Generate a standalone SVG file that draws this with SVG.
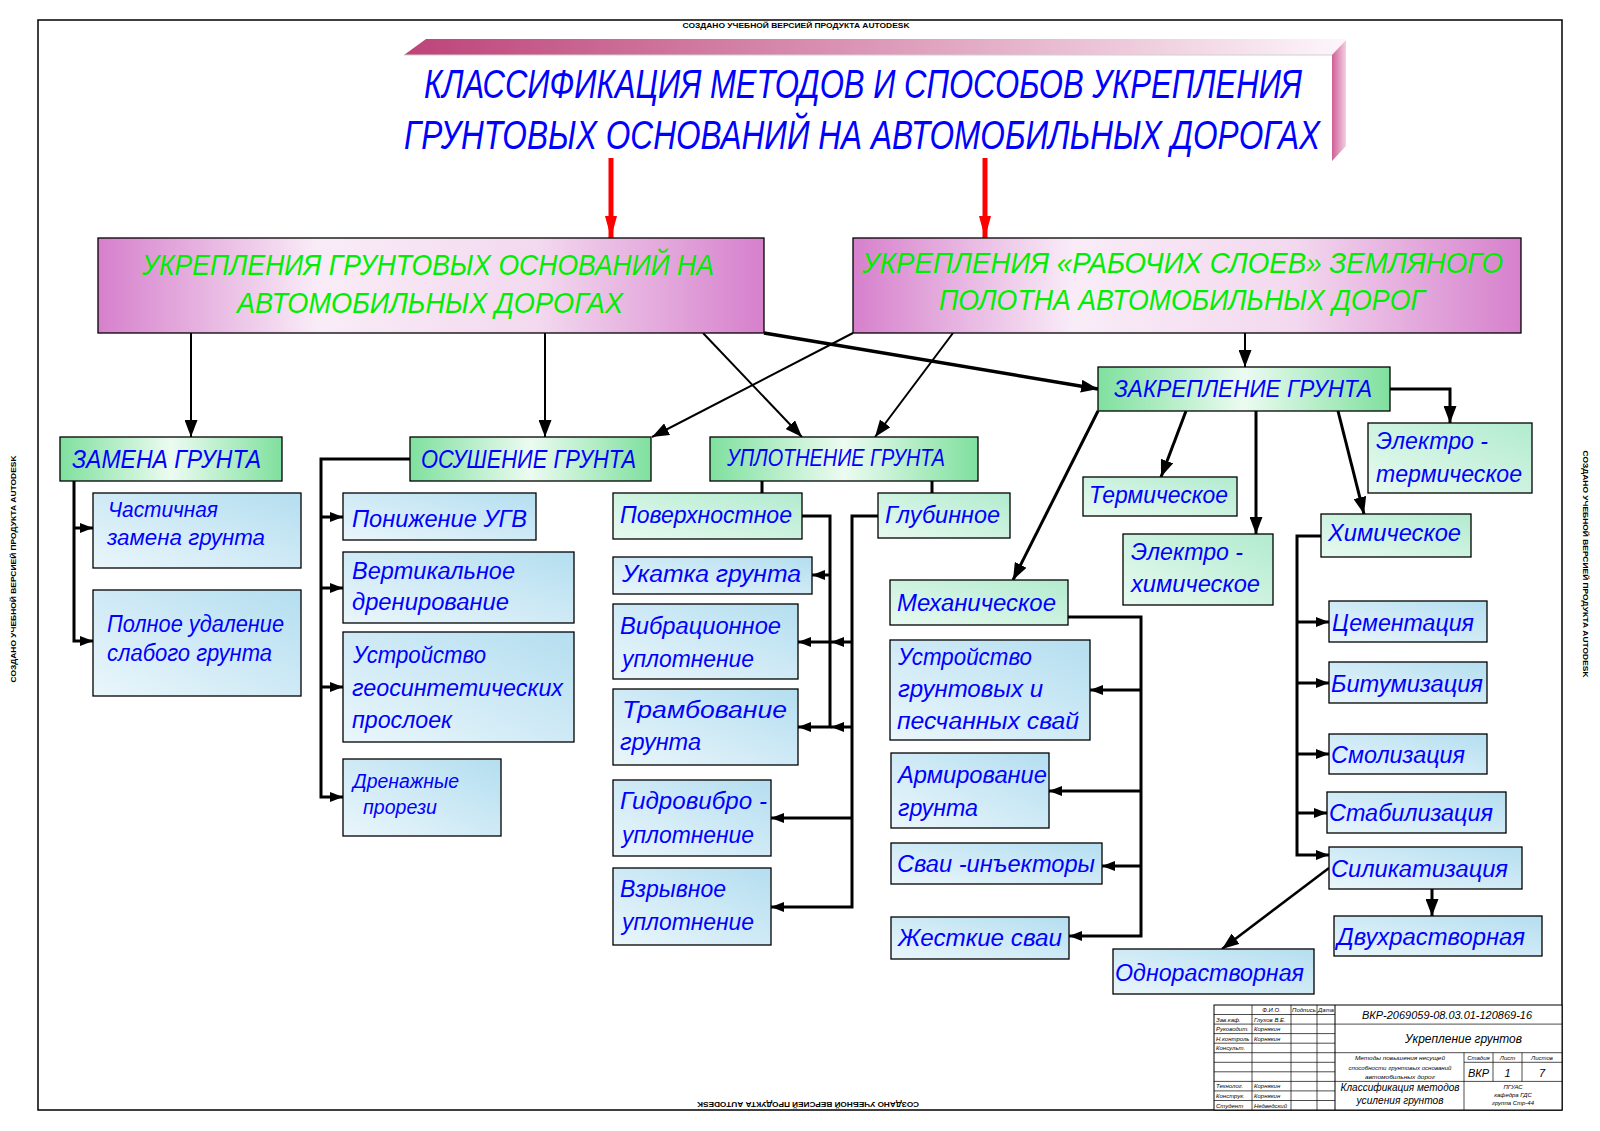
<svg xmlns="http://www.w3.org/2000/svg" width="1600" height="1131" viewBox="0 0 1600 1131">
<defs>
<style>
.n rect{stroke:#000;stroke-width:1.3}
.pk{fill:url(#gPink)}
.hd{fill:url(#gHead)}
.mt{fill:url(#gMint)}
.bl{fill:url(#gBlue)}
text{font-family:"Liberation Sans","DejaVu Sans",sans-serif}
.t{font-style:italic;fill:#0000ff;font-size:23px}
.h{font-size:25px}
.tt{font-style:italic;fill:#0000ff;font-size:40px}
.g{font-style:italic;fill:#00ee00;font-size:30px}
.s{font-style:italic;fill:#000;font-size:6px}
.wm{font-weight:bold;fill:#000;font-size:7.5px}
.c line,.c polyline{stroke:#000;fill:none;stroke-width:3}
.c .thin{stroke-width:2}
.st{stroke:#000;fill:none;stroke-width:0.7}
</style>
<linearGradient id="gPink" x1="0" y1="0" x2="1" y2="0">
<stop offset="0" stop-color="#d680cc"/><stop offset="0.33" stop-color="#f9ecf7"/><stop offset="0.66" stop-color="#f3d9ef"/><stop offset="1" stop-color="#d680cc"/>
</linearGradient>
<linearGradient id="gHead" x1="0" y1="0" x2="1" y2="0">
<stop offset="0" stop-color="#7fe09e"/><stop offset="0.5" stop-color="#ecfbf1"/><stop offset="1" stop-color="#7fe09e"/>
</linearGradient>
<linearGradient id="gMint" x1="1" y1="0" x2="0" y2="1">
<stop offset="0" stop-color="#b2ebcf"/><stop offset="1" stop-color="#e8faf0"/>
</linearGradient>
<linearGradient id="gBlue" x1="1" y1="0" x2="0" y2="1">
<stop offset="0" stop-color="#b4def0"/><stop offset="1" stop-color="#eaf6fb"/>
</linearGradient>
<linearGradient id="gBar" x1="0" y1="0" x2="1" y2="0">
<stop offset="0" stop-color="#bd4479"/><stop offset="0.5" stop-color="#dc98b8"/><stop offset="1" stop-color="#fdf6fa"/>
</linearGradient>
<linearGradient id="gSide" x1="0" y1="0" x2="1" y2="0">
<stop offset="0" stop-color="#cf5f98"/><stop offset="1" stop-color="#f4cfe2"/>
</linearGradient>
<marker id="ah" viewBox="0 0 17 13" refX="17" refY="6.5" markerWidth="17" markerHeight="13" orient="auto" markerUnits="userSpaceOnUse"><path d="M0,0 L17,6.5 L0,13 z" fill="#000"/></marker>
<marker id="as" viewBox="0 0 13 10" refX="13" refY="5" markerWidth="13" markerHeight="10" orient="auto" markerUnits="userSpaceOnUse"><path d="M0,0 L13,5 L0,10 z" fill="#000"/></marker>
<marker id="ar" viewBox="0 0 22 12" refX="22" refY="6" markerWidth="22" markerHeight="12" orient="auto" markerUnits="userSpaceOnUse"><path d="M0,0 L22,6 L0,12 z" fill="#ff0000"/></marker>
</defs>
<rect width="1600" height="1131" fill="#fff"/>
<rect x="38" y="20" width="1524" height="1090" fill="none" stroke="#000" stroke-width="1.5"/>
<text class="wm" x="796" y="27.5" text-anchor="middle" textLength="227" lengthAdjust="spacingAndGlyphs">СОЗДАНО УЧЕБНОЙ ВЕРСИЕЙ ПРОДУКТА AUTODESK</text>
<text class="wm" transform="translate(15.5,569) rotate(-90)" text-anchor="middle" textLength="227" lengthAdjust="spacingAndGlyphs">СОЗДАНО УЧЕБНОЙ ВЕРСИЕЙ ПРОДУКТА AUTODESK</text>
<text class="wm" transform="translate(1583,564) rotate(90)" text-anchor="middle" textLength="227" lengthAdjust="spacingAndGlyphs">СОЗДАНО УЧЕБНОЙ ВЕРСИЕЙ ПРОДУКТА AUTODESK</text>
<text class="wm" transform="translate(808,1102) rotate(180)" text-anchor="middle" textLength="222" lengthAdjust="spacingAndGlyphs">СОЗДАНО УЧЕБНОЙ ВЕРСИЕЙ ПРОДУКТА AUTODESK</text>

<g id="title">
<polygon points="404,55 426,39 1346,39 1332,55" fill="url(#gBar)"/>
<line x1="404" y1="55" x2="1332" y2="55" stroke="#d0d0d0" stroke-width="1"/>
<polygon points="1332,55 1346,40 1346,146 1332,161" fill="url(#gSide)"/>
<text class="tt" x="424" y="98" textLength="878" lengthAdjust="spacingAndGlyphs">КЛАССИФИКАЦИЯ МЕТОДОВ И СПОСОБОВ УКРЕПЛЕНИЯ</text>
<text class="tt" x="404" y="149" textLength="916" lengthAdjust="spacingAndGlyphs">ГРУНТОВЫХ ОСНОВАНИЙ НА АВТОМОБИЛЬНЫХ ДОРОГАХ</text>
</g>

<g id="connectors" class="c">
<line x1="611" y1="158" x2="611" y2="238" style="stroke:#ff0000;stroke-width:5" marker-end="url(#ar)"/>
<line x1="985" y1="158" x2="985" y2="238" style="stroke:#ff0000;stroke-width:5" marker-end="url(#ar)"/>
<line class="thin" x1="191" y1="333" x2="191" y2="437" marker-end="url(#ah)"/>
<line class="thin" x1="545" y1="333" x2="545" y2="437" marker-end="url(#ah)"/>
<line class="thin" x1="703" y1="333" x2="802" y2="437" marker-end="url(#ah)"/>
<line class="thin" x1="853" y1="333" x2="652" y2="437" marker-end="url(#ah)"/>
<line class="thin" x1="953" y1="333" x2="875" y2="437" marker-end="url(#ah)"/>
<line class="thin" x1="1245" y1="333" x2="1245" y2="367" marker-end="url(#ah)"/>
<line x1="764" y1="333" x2="1098" y2="389" style="stroke-width:3.5" marker-end="url(#ah)"/>
<polyline points="74,481 74,641 93,641" marker-end="url(#as)"/>
<line x1="74" y1="528" x2="93" y2="528" marker-end="url(#as)"/>
<polyline points="410,459 321,459 321,797 343,797" marker-end="url(#as)"/>
<line x1="321" y1="517" x2="343" y2="517" marker-end="url(#as)"/>
<line x1="321" y1="588" x2="343" y2="588" marker-end="url(#as)"/>
<line x1="321" y1="687" x2="343" y2="687" marker-end="url(#as)"/>
<line x1="762" y1="481" x2="762" y2="493"/>
<line x1="932" y1="481" x2="932" y2="493"/>
<polyline points="802,516 830,516 830,727 798,727" marker-end="url(#as)"/>
<line x1="830" y1="575" x2="812" y2="575" marker-end="url(#as)"/>
<line x1="830" y1="642" x2="798" y2="642" marker-end="url(#as)"/>
<polyline points="878,516 852,516 852,907 771,907" marker-end="url(#as)"/>
<line x1="852" y1="642" x2="831" y2="642" marker-end="url(#as)"/>
<line x1="852" y1="727" x2="831" y2="727" marker-end="url(#as)"/>
<line x1="852" y1="818" x2="771" y2="818" marker-end="url(#as)"/>
<line x1="1098" y1="411" x2="1013" y2="580" marker-end="url(#ah)"/>
<line x1="1186" y1="411" x2="1161" y2="477" marker-end="url(#ah)"/>
<line x1="1256" y1="411" x2="1256" y2="534" marker-end="url(#ah)"/>
<line x1="1338" y1="411" x2="1364" y2="514" marker-end="url(#ah)"/>
<polyline points="1390,389 1450,389 1450,423" marker-end="url(#ah)"/>
<polyline points="1068,617 1141,617 1141,936 1069,936" marker-end="url(#as)"/>
<line x1="1141" y1="690" x2="1090" y2="690" marker-end="url(#as)"/>
<line x1="1141" y1="791" x2="1049" y2="791" marker-end="url(#as)"/>
<line x1="1141" y1="866" x2="1102" y2="866" marker-end="url(#as)"/>
<polyline points="1321,536 1297,536 1297,855 1329,855" marker-end="url(#as)"/>
<line x1="1297" y1="622" x2="1329" y2="622" marker-end="url(#as)"/>
<line x1="1297" y1="683" x2="1329" y2="683" marker-end="url(#as)"/>
<line x1="1297" y1="754" x2="1329" y2="754" marker-end="url(#as)"/>
<line x1="1297" y1="813" x2="1327" y2="813" marker-end="url(#as)"/>
<line x1="1329" y1="868" x2="1222" y2="949" style="stroke-width:2.5" marker-end="url(#ah)"/>
<line x1="1432" y1="889" x2="1432" y2="916" marker-end="url(#ah)"/>
</g>

<g id="n_root_left" class="n"><rect class="pk" x="98" y="238" width="666" height="95"/>
<text class="g" x="142" y="275" textLength="572" lengthAdjust="spacingAndGlyphs">УКРЕПЛЕНИЯ ГРУНТОВЫХ ОСНОВАНИЙ НА</text>
<text class="g" x="237" y="313" textLength="386" lengthAdjust="spacingAndGlyphs">АВТОМОБИЛЬНЫХ ДОРОГАХ</text></g>
<g id="n_root_right" class="n"><rect class="pk" x="853" y="238" width="668" height="95"/>
<text class="g" x="862" y="273" textLength="641" lengthAdjust="spacingAndGlyphs">УКРЕПЛЕНИЯ «РАБОЧИХ СЛОЕВ» ЗЕМЛЯНОГО</text>
<text class="g" x="939" y="310" textLength="486" lengthAdjust="spacingAndGlyphs">ПОЛОТНА АВТОМОБИЛЬНЫХ ДОРОГ</text></g>

<g id="n_zamena" class="n"><rect class="hd" x="60" y="437" width="222" height="44"/>
<text class="t h" x="72" y="468" textLength="189" lengthAdjust="spacingAndGlyphs">ЗАМЕНА ГРУНТА</text></g>
<g id="n_osush" class="n"><rect class="hd" x="410" y="437" width="241" height="44"/>
<text class="t h" x="421" y="468" textLength="215" lengthAdjust="spacingAndGlyphs">ОСУШЕНИЕ ГРУНТА</text></g>
<g id="n_uplot" class="n"><rect class="hd" x="710" y="437" width="268" height="44"/>
<text class="t" style="font-size:24px" x="727" y="466" textLength="218" lengthAdjust="spacingAndGlyphs">УПЛОТНЕНИЕ ГРУНТА</text></g>
<g id="n_zakrep" class="n"><rect class="hd" x="1098" y="367" width="292" height="44"/>
<text class="t" style="font-size:24px" x="1114" y="397" textLength="258" lengthAdjust="spacingAndGlyphs">ЗАКРЕПЛЕНИЕ ГРУНТА</text></g>

<g id="n_chast" class="n"><rect class="bl" x="93" y="493" width="208" height="75"/>
<text class="t" style="font-size:22px" x="108" y="517" textLength="110" lengthAdjust="spacingAndGlyphs">Частичная</text>
<text class="t" style="font-size:22px" x="107" y="545" textLength="158" lengthAdjust="spacingAndGlyphs">замена грунта</text></g>
<g id="n_poln" class="n"><rect class="bl" x="93" y="590" width="208" height="106"/>
<text class="t" x="107" y="632" textLength="177" lengthAdjust="spacingAndGlyphs">Полное удаление</text>
<text class="t" x="107" y="661" textLength="165" lengthAdjust="spacingAndGlyphs">слабого грунта</text></g>

<g id="n_ponizh" class="n"><rect class="bl" x="343" y="493" width="193" height="47"/>
<text class="t" x="352" y="527" textLength="175" lengthAdjust="spacingAndGlyphs">Понижение УГВ</text></g>
<g id="n_vert" class="n"><rect class="bl" x="343" y="552" width="231" height="71"/>
<text class="t" x="352" y="579" textLength="163" lengthAdjust="spacingAndGlyphs">Вертикальное</text>
<text class="t" x="352" y="610" textLength="157" lengthAdjust="spacingAndGlyphs">дренирование</text></g>
<g id="n_geos" class="n"><rect class="bl" x="343" y="632" width="231" height="110"/>
<text class="t" x="353" y="663" textLength="133" lengthAdjust="spacingAndGlyphs">Устройство</text>
<text class="t" x="352" y="696" textLength="211" lengthAdjust="spacingAndGlyphs">геосинтетических</text>
<text class="t" x="352" y="728" textLength="100" lengthAdjust="spacingAndGlyphs">прослоек</text></g>
<g id="n_dren" class="n"><rect class="bl" x="343" y="759" width="158" height="77"/>
<text class="t" style="font-size:20px" x="353" y="788" textLength="106" lengthAdjust="spacingAndGlyphs">Дренажные</text>
<text class="t" style="font-size:20px" x="363" y="814" textLength="74" lengthAdjust="spacingAndGlyphs">прорези</text></g>

<g id="n_poverh" class="n"><rect class="mt" x="613" y="493" width="189" height="46"/>
<text class="t" x="620" y="523" textLength="172" lengthAdjust="spacingAndGlyphs">Поверхностное</text></g>
<g id="n_glub" class="n"><rect class="mt" x="878" y="493" width="132" height="45"/>
<text class="t" x="885" y="523" textLength="115" lengthAdjust="spacingAndGlyphs">Глубинное</text></g>
<g id="n_ukat" class="n"><rect class="bl" x="613" y="557" width="199" height="37"/>
<text class="t" x="622" y="582" textLength="179" lengthAdjust="spacingAndGlyphs">Укатка грунта</text></g>
<g id="n_vibr" class="n"><rect class="bl" x="613" y="604" width="185" height="75"/>
<text class="t" x="620" y="634" textLength="161" lengthAdjust="spacingAndGlyphs">Вибрационное</text>
<text class="t" x="622" y="667" textLength="132" lengthAdjust="spacingAndGlyphs">уплотнение</text></g>
<g id="n_tramb" class="n"><rect class="bl" x="613" y="689" width="185" height="76"/>
<text class="t" x="622" y="718" textLength="165" lengthAdjust="spacingAndGlyphs">Трамбование</text>
<text class="t" x="620" y="750" textLength="81" lengthAdjust="spacingAndGlyphs">грунта</text></g>
<g id="n_gidro" class="n"><rect class="bl" x="613" y="780" width="158" height="76"/>
<text class="t" x="620" y="809" textLength="147" lengthAdjust="spacingAndGlyphs">Гидровибро -</text>
<text class="t" x="622" y="843" textLength="132" lengthAdjust="spacingAndGlyphs">уплотнение</text></g>
<g id="n_vzryv" class="n"><rect class="bl" x="613" y="868" width="158" height="77"/>
<text class="t" x="620" y="897" textLength="106" lengthAdjust="spacingAndGlyphs">Взрывное</text>
<text class="t" x="622" y="930" textLength="132" lengthAdjust="spacingAndGlyphs">уплотнение</text></g>

<g id="n_mech" class="n"><rect class="mt" x="890" y="580" width="178" height="45"/>
<text class="t" x="897" y="611" textLength="159" lengthAdjust="spacingAndGlyphs">Механическое</text></g>
<g id="n_svai" class="n"><rect class="bl" x="890" y="640" width="200" height="100"/>
<text class="t" x="898" y="665" textLength="134" lengthAdjust="spacingAndGlyphs">Устройство</text>
<text class="t" x="898" y="697" textLength="145" lengthAdjust="spacingAndGlyphs">грунтовых и</text>
<text class="t" x="897" y="729" textLength="182" lengthAdjust="spacingAndGlyphs">песчанных свай</text></g>
<g id="n_armir" class="n"><rect class="bl" x="891" y="753" width="158" height="75"/>
<text class="t" x="898" y="783" textLength="149" lengthAdjust="spacingAndGlyphs">Армирование</text>
<text class="t" x="898" y="816" textLength="80" lengthAdjust="spacingAndGlyphs">грунта</text></g>
<g id="n_inj" class="n"><rect class="bl" x="891" y="843" width="211" height="41"/>
<text class="t" x="897" y="872" textLength="198" lengthAdjust="spacingAndGlyphs">Сваи -инъекторы</text></g>
<g id="n_zhest" class="n"><rect class="bl" x="891" y="917" width="178" height="42"/>
<text class="t" x="898" y="946" textLength="164" lengthAdjust="spacingAndGlyphs">Жесткие сваи</text></g>

<g id="n_term" class="n"><rect class="mt" x="1083" y="477" width="154" height="39"/>
<text class="t" x="1089" y="503" textLength="139" lengthAdjust="spacingAndGlyphs">Термическое</text></g>
<g id="n_elchem" class="n"><rect class="mt" x="1123" y="534" width="150" height="71"/>
<text class="t" x="1131" y="560" textLength="112" lengthAdjust="spacingAndGlyphs">Электро -</text>
<text class="t" x="1131" y="592" textLength="129" lengthAdjust="spacingAndGlyphs">химическое</text></g>
<g id="n_elterm" class="n"><rect class="mt" x="1368" y="423" width="164" height="70"/>
<text class="t" x="1376" y="449" textLength="112" lengthAdjust="spacingAndGlyphs">Электро -</text>
<text class="t" x="1376" y="482" textLength="146" lengthAdjust="spacingAndGlyphs">термическое</text></g>
<g id="n_chem" class="n"><rect class="mt" x="1321" y="514" width="150" height="43"/>
<text class="t" x="1328" y="541" textLength="133" lengthAdjust="spacingAndGlyphs">Химическое</text></g>

<g id="n_cement" class="n"><rect class="bl" x="1329" y="601" width="158" height="41"/>
<text class="t" x="1332" y="631" textLength="142" lengthAdjust="spacingAndGlyphs">Цементация</text></g>
<g id="n_bitum" class="n"><rect class="bl" x="1329" y="662" width="158" height="41"/>
<text class="t" x="1331" y="692" textLength="152" lengthAdjust="spacingAndGlyphs">Битумизация</text></g>
<g id="n_smol" class="n"><rect class="bl" x="1329" y="734" width="158" height="40"/>
<text class="t" x="1331" y="763" textLength="134" lengthAdjust="spacingAndGlyphs">Смолизация</text></g>
<g id="n_stab" class="n"><rect class="bl" x="1327" y="792" width="179" height="41"/>
<text class="t" x="1329" y="821" textLength="164" lengthAdjust="spacingAndGlyphs">Стабилизация</text></g>
<g id="n_silik" class="n"><rect class="bl" x="1329" y="847" width="193" height="42"/>
<text class="t" x="1331" y="877" textLength="177" lengthAdjust="spacingAndGlyphs">Силикатизация</text></g>
<g id="n_dvuh" class="n"><rect class="bl" x="1334" y="916" width="208" height="40"/>
<text class="t" x="1337" y="945" textLength="188" lengthAdjust="spacingAndGlyphs">Двухрастворная</text></g>
<g id="n_odno" class="n"><rect class="bl" x="1113" y="949" width="201" height="45"/>
<text class="t" x="1115" y="981" textLength="189" lengthAdjust="spacingAndGlyphs">Однорастворная</text></g>

<g id="stamp">
<rect x="1214" y="1005" width="348" height="105" fill="#fff" stroke="#000" stroke-width="1"/>
<path class="st" d="M1214,1014.5H1335M1214,1024.1H1562M1214,1033.6H1335M1214,1043.2H1335M1214,1052.7H1562M1214,1062.3H1335M1464,1062.3H1562M1214,1071.8H1335M1214,1081.4H1562M1214,1090.9H1335M1214,1100.5H1335"/>
<path class="st" d="M1252,1005V1110M1291,1005V1110M1317,1005V1110M1464,1052.7V1110M1493,1052.7V1081.4M1522,1052.7V1081.4"/>
<path d="M1335,1005V1110" stroke="#000" stroke-width="1" fill="none"/>
<text class="s" x="1271.5" y="1012" text-anchor="middle">Ф.И.О.</text>
<text class="s" x="1304" y="1012" text-anchor="middle">Подпись</text>
<text class="s" x="1326" y="1012" text-anchor="middle">Дата</text>
<text class="s" x="1216" y="1021.5">Зав.каф.</text><text class="s" x="1254" y="1021.5">Глухов В.Е.</text>
<text class="s" x="1216" y="1031">Руководит.</text><text class="s" x="1254" y="1031">Корнякин</text>
<text class="s" x="1216" y="1040.6">Н.контроль</text><text class="s" x="1254" y="1040.6">Корнякин</text>
<text class="s" x="1216" y="1050.2">Консульт.</text>
<text class="s" x="1216" y="1088.4">Технолог.</text><text class="s" x="1254" y="1088.4">Корнякин</text>
<text class="s" x="1216" y="1097.9">Конструк.</text><text class="s" x="1254" y="1097.9">Корнякин</text>
<text class="s" x="1216" y="1107.5">Студент</text><text class="s" x="1254" y="1107.5">Недведский</text>
<text class="s" style="font-size:11.5px" x="1362" y="1018.5" textLength="170" lengthAdjust="spacingAndGlyphs">ВКР-2069059-08.03.01-120869-16</text>
<text class="s" style="font-size:13px" x="1405" y="1043" textLength="117" lengthAdjust="spacingAndGlyphs">Укрепление грунтов</text>
<text class="s" x="1400" y="1060" text-anchor="middle" textLength="90" lengthAdjust="spacingAndGlyphs">Методы повышения несущей</text>
<text class="s" x="1400" y="1069.5" text-anchor="middle" textLength="103" lengthAdjust="spacingAndGlyphs">способности грунтовых оснований</text>
<text class="s" x="1400" y="1079" text-anchor="middle" textLength="70" lengthAdjust="spacingAndGlyphs">автомобильных дорог</text>
<text class="s" x="1478.5" y="1060" text-anchor="middle">Стадия</text>
<text class="s" x="1507.5" y="1060" text-anchor="middle">Лист</text>
<text class="s" x="1542" y="1060" text-anchor="middle">Листов</text>
<text class="s" style="font-size:11px" x="1478.5" y="1077" text-anchor="middle">ВКР</text>
<text class="s" style="font-size:11px" x="1507.5" y="1077" text-anchor="middle">1</text>
<text class="s" style="font-size:11px" x="1542" y="1077" text-anchor="middle">7</text>
<text class="s" style="font-size:11.5px" x="1400" y="1091" text-anchor="middle" textLength="119" lengthAdjust="spacingAndGlyphs">Классификация методов</text>
<text class="s" style="font-size:11.5px" x="1400" y="1104" text-anchor="middle" textLength="87" lengthAdjust="spacingAndGlyphs">усиления грунтов</text>
<text class="s" x="1513" y="1089" text-anchor="middle">ПГУАС</text>
<text class="s" x="1513" y="1097" text-anchor="middle">кафедра ГДС</text>
<text class="s" x="1513" y="1105" text-anchor="middle">группа Стр-44</text>
</g>
</svg>
